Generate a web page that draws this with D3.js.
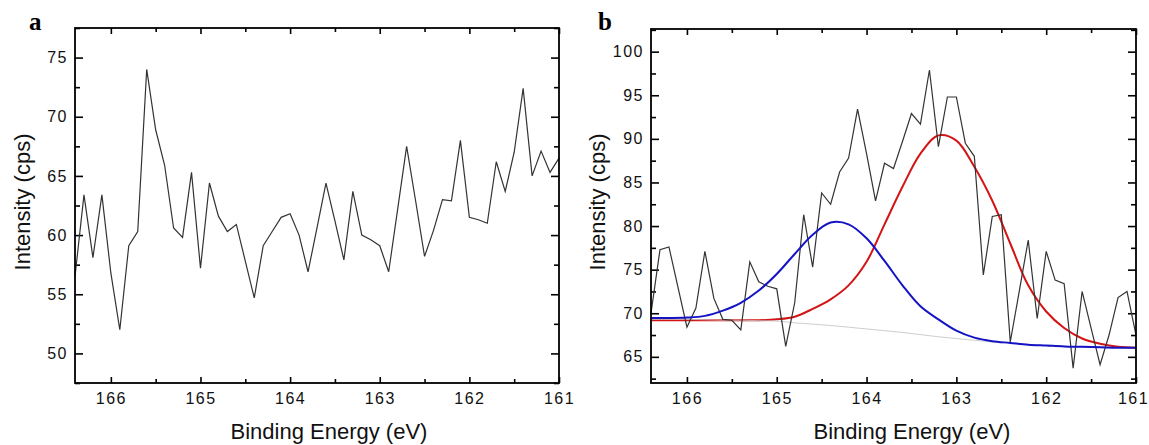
<!DOCTYPE html>
<html>
<head>
<meta charset="utf-8">
<script src="https://cdn.jsdelivr.net/npm/d3@7"></script>
<style>
  body { margin: 0; background: #fff; }
  svg { display: block; }
</style>
</head>
<body>
<div id="chart"></div>
<script>
// ========================================
// Data
// ========================================
// binding energy of every measured point (eV), same grid in both panels
const energy = [
  166.4, 166.3, 166.2, 166.1, 166.0, 165.9, 165.8, 165.7, 165.6, 165.5,
  165.4, 165.3, 165.2, 165.1, 165.0, 164.9, 164.8, 164.7, 164.6, 164.5,
  164.4, 164.3, 164.2, 164.1, 164.0, 163.9, 163.8, 163.7, 163.6, 163.5,
  163.4, 163.3, 163.2, 163.1, 163.0, 162.9, 162.8, 162.7, 162.6, 162.5,
  162.4, 162.3, 162.2, 162.1, 162.0, 161.9, 161.8, 161.7, 161.6, 161.5,
  161.4, 161.3, 161.2, 161.1, 161.0
];

// panel a : raw spectrum (cps)
const countsA = [
  56.5, 63.4, 58.1, 63.4, 56.8, 52.0, 59.1, 60.3, 74.0, 68.9,
  65.9, 60.6, 59.8, 65.3, 57.2, 64.4, 61.6, 60.3, 60.9, 57.8,
  54.7, 59.1, 60.3, 61.5, 61.8, 60.0, 56.9, 60.6, 64.4, 61.2,
  57.9, 63.7, 60.0, 59.6, 59.1, 56.9, 62.2, 67.5, 62.9, 58.2,
  60.4, 63.0, 62.9, 68.0, 61.5, 61.3, 61.0, 66.2, 63.7, 67.0,
  72.4, 65.0, 67.1, 65.3, 66.5
];

// panel b : raw spectrum (cps)
const countsB = [
  70.0, 77.3, 77.6, 73.0, 68.4, 70.6, 77.1, 71.7, 69.3, 69.2,
  68.1, 75.9, 73.6, 73.1, 72.8, 66.2, 71.2, 81.3, 75.3, 83.8,
  82.5, 86.2, 87.8, 93.4, 88.3, 82.9, 87.2, 86.6, 89.7, 92.9,
  91.7, 97.9, 89.1, 94.8, 94.8, 89.5, 88.0, 74.4, 81.1, 81.3,
  66.7, 72.5, 78.4, 69.4, 77.1, 73.8, 73.4, 63.7, 72.5, 68.3,
  64.1, 67.5, 71.8, 72.5, 67.5
];

// panel b : fitted curves, read every 0.2 eV
const fitEnergy = [
  166.4, 166.2, 166.0, 165.8, 165.6, 165.4, 165.2, 165.0, 164.8, 164.6,
  164.4, 164.2, 164.0, 163.8, 163.6, 163.4, 163.2, 163.0, 162.8, 162.6,
  162.4, 162.2, 162.0, 161.8, 161.6, 161.4, 161.2, 161.0
];
const background = [
  69.3, 69.3, 69.3, 69.25, 69.2, 69.2, 69.15, 69.1, 68.9, 68.75,
  68.6, 68.4, 68.2, 68.0, 67.8, 67.55, 67.3, 67.1, 66.9, 66.7,
  66.55, 66.4, 66.3, 66.2, 66.15, 66.1, 66.05, 66.05
];
const peakLow = [   // blue component (~164.3 eV)
  69.45, 69.45, 69.5, 69.7, 70.3, 71.2, 72.6, 74.5, 76.8, 79.0,
  80.4, 80.2, 78.6, 76.0, 73.2, 70.8, 69.3, 68.0, 67.2, 66.8,
  66.6, 66.4, 66.3, 66.2, 66.15, 66.1, 66.05, 66.05
];
const peakHigh = [  // red component (~163.2 eV)
  69.2, 69.2, 69.2, 69.2, 69.2, 69.2, 69.2, 69.3, 69.6, 70.5,
  71.6, 73.2, 75.9, 80.2, 84.5, 88.3, 90.4, 89.8, 86.8, 82.9,
  78.0, 73.2, 70.2, 68.3, 67.1, 66.5, 66.15, 66.05
];

const xTicks = [166, 165, 164, 163, 162, 161];
const xMinor = [165.5, 164.5, 163.5, 162.5, 161.5];
const yTicksA = [50, 55, 60, 65, 70, 75];
const yMinorA = [47.5, 52.5, 57.5, 62.5, 67.5, 72.5, 77.5];
const yTicksB = [65, 70, 75, 80, 85, 90, 95, 100];
const yMinorB = [62.5, 67.5, 72.5, 77.5, 82.5, 87.5, 92.5, 97.5, 102.5];

// ========================================
// SVG
// ========================================
const width = 1149, height = 445;
const svg = d3.select('#chart').append('svg')
  .attr('width', width)
  .attr('height', height);

const tickFont = 'Liberation Sans, Arial, sans-serif';

function drawPanel(p) {
  const x = d3.scaleLinear().domain([166.4, 161]).range([p.left, p.right]);
  const y = d3.scaleLinear().domain(p.yDomain).range([p.bottom, p.top]);
  const g = svg.append('g');

  // ticks (all pointing inside the frame)
  const tidy = sel => {
    sel.select('.domain').remove();
    sel.selectAll('line').attr('stroke', '#000').attr('stroke-width', 1.6);
    sel.selectAll('text')
      .attr('font-family', tickFont)
      .attr('font-size', 16)
      .attr('letter-spacing', '1.5px')
      .attr('fill', '#111');
  };
  const xAxis = g.append('g').attr('transform', `translate(0,${p.bottom})`)
    .call(d3.axisBottom(x).tickValues(xTicks).tickSize(-6).tickSizeOuter(0).tickPadding(10).tickFormat(d3.format('d')))
    .call(tidy);
  // keep the last label ("161") inside the picture
  xAxis.selectAll('.tick text').filter(d => d === 161).attr('dx', p.lastDx);

  g.append('g').attr('transform', `translate(0,${p.bottom})`)
    .call(d3.axisBottom(x).tickValues(xMinor).tickSize(-4).tickSizeOuter(0).tickFormat(''))
    .call(tidy);
  g.append('g').attr('transform', `translate(0,${p.top})`)
    .call(d3.axisTop(x).tickValues(xTicks).tickSize(-6).tickSizeOuter(0).tickFormat(''))
    .call(tidy);
  g.append('g').attr('transform', `translate(0,${p.top})`)
    .call(d3.axisTop(x).tickValues(xMinor).tickSize(-4).tickSizeOuter(0).tickFormat(''))
    .call(tidy);
  g.append('g').attr('transform', `translate(${p.left},0)`)
    .call(d3.axisLeft(y).tickValues(p.yTicks).tickSize(-8).tickSizeOuter(0).tickPadding(7).tickFormat(d3.format('d')))
    .call(tidy);
  g.append('g').attr('transform', `translate(${p.left},0)`)
    .call(d3.axisLeft(y).tickValues(p.yMinor).tickSize(-5).tickSizeOuter(0).tickFormat(''))
    .call(tidy);
  g.append('g').attr('transform', `translate(${p.right},0)`)
    .call(d3.axisRight(y).tickValues(p.yTicks).tickSize(-8).tickSizeOuter(0).tickFormat(''))
    .call(tidy);
  g.append('g').attr('transform', `translate(${p.right},0)`)
    .call(d3.axisRight(y).tickValues(p.yMinor).tickSize(-5).tickSizeOuter(0).tickFormat(''))
    .call(tidy);

  // curves
  const line = vals => d3.line()
    .x((d, i) => x(p.xs[i]))
    .y(d => y(d))(vals);
  const fitLine = vals => d3.line()
    .x((d, i) => x(fitEnergy[i]))
    .y(d => y(d))
    .curve(d3.curveCatmullRom.alpha(0.5))(vals);

  if (p.fits) {
    g.append('path').attr('d', fitLine(peakHigh))
      .attr('fill', 'none').attr('stroke', '#d41414').attr('stroke-width', 2);
    g.append('path').attr('d', fitLine(background))
      .attr('fill', 'none').attr('stroke', '#c4c4c4').attr('stroke-width', 1).attr('opacity', 0.85);
  }
  g.append('path').attr('d', line(p.ys))
    .attr('fill', 'none').attr('stroke', '#333').attr('stroke-width', 1.2)
    .attr('stroke-linejoin', 'miter');
  if (p.fits) {
    g.append('path').attr('d', fitLine(peakLow))
      .attr('fill', 'none').attr('stroke', '#1414c4').attr('stroke-width', 2);
  }

  // frame
  g.append('rect')
    .attr('x', p.left).attr('y', p.top)
    .attr('width', p.right - p.left).attr('height', p.bottom - p.top)
    .attr('fill', 'none').attr('stroke', '#000').attr('stroke-width', 1.8);

  // labels
  g.append('text')
    .attr('x', p.xLabelX).attr('y', 439)
    .attr('text-anchor', 'middle')
    .attr('font-family', tickFont).attr('font-size', 22).attr('fill', '#111')
    .text('Binding Energy (eV)');
  g.append('text')
    .attr('transform', `translate(${p.yLabelX},202) rotate(-90)`)
    .attr('text-anchor', 'middle')
    .attr('font-family', tickFont).attr('font-size', 22).attr('fill', '#111')
    .text('Intensity (cps)');
  g.append('text')
    .attr('x', p.letterX).attr('y', 30)
    .attr('font-family', 'Liberation Serif, Times New Roman, serif')
    .attr('font-weight', 'bold').attr('font-size', 25)
    .text(p.letter);
}

drawPanel({
  letter: 'a', letterX: 29,
  left: 75, right: 559, top: 28, bottom: 383,
  yDomain: [47.5, 77.5], yTicks: yTicksA, yMinor: yMinorA,
  xs: energy, ys: countsA, fits: false, lastDx: 0,
  xLabelX: 329, yLabelX: 30
});

drawPanel({
  letter: 'b', letterX: 598,
  left: 651, right: 1136, top: 29, bottom: 383,
  yDomain: [62, 102.6], yTicks: yTicksB, yMinor: yMinorB,
  xs: energy, ys: countsB, fits: true, lastDx: -3,
  xLabelX: 912, yLabelX: 605
});
</script>
</body>
</html>
